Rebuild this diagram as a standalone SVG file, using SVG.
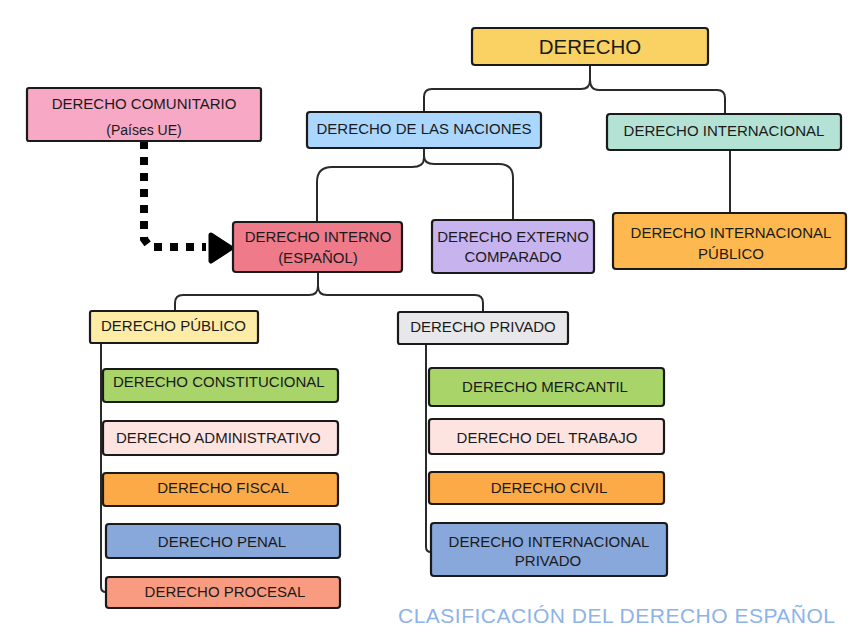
<svg xmlns="http://www.w3.org/2000/svg" width="848" height="636" viewBox="0 0 848 636">
<style>
.n{stroke:#1a1a1a;stroke-width:2.2}
.t{font-family:"Liberation Sans",Arial,sans-serif;font-size:15px;fill:#1a1a1a;text-anchor:middle}
.l{text-anchor:start}
.c{fill:none;stroke:#2a2a2a;stroke-width:2}
</style>
<rect width="848" height="636" fill="#ffffff"/>
<g id="connectors">
<path class="c" d="M590,65 V80 Q590,89 581,89 H432 Q424,89 424,97 V112"/>
<path class="c" d="M590,80 Q590,90 599,90 H717 Q725,90 725,98 V114"/>
<path class="c" d="M424,148 V158 Q424,167 412,167 H332 Q317,167 317,182 V222"/>
<path class="c" d="M424,156 Q424,164 434,164 H499 Q513,164 513,178 V220"/>
<path class="c" d="M730,150 V213"/>
<path class="c" d="M318,272 V286 Q318,295 309,295 H183 Q175,295 175,303 V311"/>
<path class="c" d="M318,286 Q318,295 327,295 H475 Q483,295 483,303 V312"/>
<path class="c" d="M101,343 V587 Q101,592 106,592"/>
<path class="c" d="M426,344 V547 Q426,552 431,552"/>
<path d="M144,141 V239 L150,247 H206" fill="none" stroke="#000" stroke-width="8" stroke-dasharray="8 8"/>
<polygon points="211,235 231,248 211,261" fill="#000" stroke="#000" stroke-width="5" stroke-linejoin="round"/>
</g>
<g id="derecho"><rect class="n" x="472" y="28" width="236" height="37" rx="3" fill="#fad264"/><text class="t" x="590" y="54" style="font-size:20.5px">DERECHO</text></g>
<g id="comunitario"><rect class="n" x="27" y="88" width="234" height="53" rx="2" fill="#f7a8c4"/><text class="t" x="144" y="109">DERECHO COMUNITARIO</text><text class="t" x="144" y="135" style="font-size:14px">(Países UE)</text></g>
<g id="naciones"><rect class="n" x="307" y="112" width="234" height="36" rx="3" fill="#abd6fd"/><text class="t" x="424" y="134">DERECHO DE LAS NACIONES</text></g>
<g id="internacional"><rect class="n" x="607" y="114" width="234" height="36" rx="3" fill="#b4e2d4"/><text class="t" x="724" y="136">DERECHO INTERNACIONAL</text></g>
<g id="interno"><rect class="n" x="233" y="222" width="169" height="50" rx="3" fill="#ef7a8a"/><text class="t" x="318" y="242">DERECHO INTERNO</text><text class="t" x="318" y="263">(ESPAÑOL)</text></g>
<g id="externo"><rect class="n" x="432" y="220" width="162" height="53" rx="3" fill="#c7b3ee"/><text class="t" x="513" y="242">DERECHO EXTERNO</text><text class="t" x="513" y="262">COMPARADO</text></g>
<g id="int-publico"><rect class="n" x="613" y="213" width="233" height="56" rx="3" fill="#fdb94f"/><text class="t" x="731" y="238">DERECHO INTERNACIONAL</text><text class="t" x="731" y="259">PÚBLICO</text></g>
<g id="publico"><rect class="n" x="90" y="311" width="168" height="32" rx="2" fill="#fdeca6"/><text class="t l" x="101" y="331">DERECHO PÚBLICO</text></g>
<g id="privado"><rect class="n" x="398" y="312" width="170" height="32" rx="2" fill="#e8e8ea"/><text class="t" x="483" y="332">DERECHO PRIVADO</text></g>
<g id="constitucional"><rect class="n" x="103" y="369" width="235" height="33" rx="3" fill="#a9d46a"/><text class="t l" x="113" y="387">DERECHO CONSTITUCIONAL</text></g>
<g id="administrativo"><rect class="n" x="103" y="421" width="235" height="34" rx="3" fill="#fde4e1"/><text class="t l" x="116" y="443">DERECHO ADMINISTRATIVO</text></g>
<g id="fiscal"><rect class="n" x="103" y="473" width="235" height="33" rx="3" fill="#fbaa47"/><text class="t" x="223" y="493">DERECHO FISCAL</text></g>
<g id="penal"><rect class="n" x="106" y="524" width="234" height="34" rx="3" fill="#88a7db"/><text class="t" x="222" y="547">DERECHO PENAL</text></g>
<g id="procesal"><rect class="n" x="106" y="577" width="234" height="31" rx="3" fill="#f99b80"/><text class="t" x="225" y="597">DERECHO PROCESAL</text></g>
<g id="mercantil"><rect class="n" x="429" y="368" width="235" height="38" rx="3" fill="#a9d46a"/><text class="t" x="545" y="392">DERECHO MERCANTIL</text></g>
<g id="trabajo"><rect class="n" x="429" y="419" width="235" height="35" rx="3" fill="#fde4e1"/><text class="t" x="547" y="443">DERECHO DEL TRABAJO</text></g>
<g id="civil"><rect class="n" x="429" y="472" width="235" height="32" rx="3" fill="#fbaa47"/><text class="t" x="549" y="493">DERECHO CIVIL</text></g>
<g id="int-privado"><rect class="n" x="431" y="523" width="236" height="53" rx="3" fill="#88a7db"/><text class="t" x="549" y="547">DERECHO INTERNACIONAL</text><text class="t" x="548" y="566">PRIVADO</text></g>
<text x="398" y="623" textLength="437" lengthAdjust="spacing" style="font-family:'Liberation Sans',Arial,sans-serif;font-size:21px;fill:#8db3e8">CLASIFICACIÓN DEL DERECHO ESPAÑOL</text>
</svg>
